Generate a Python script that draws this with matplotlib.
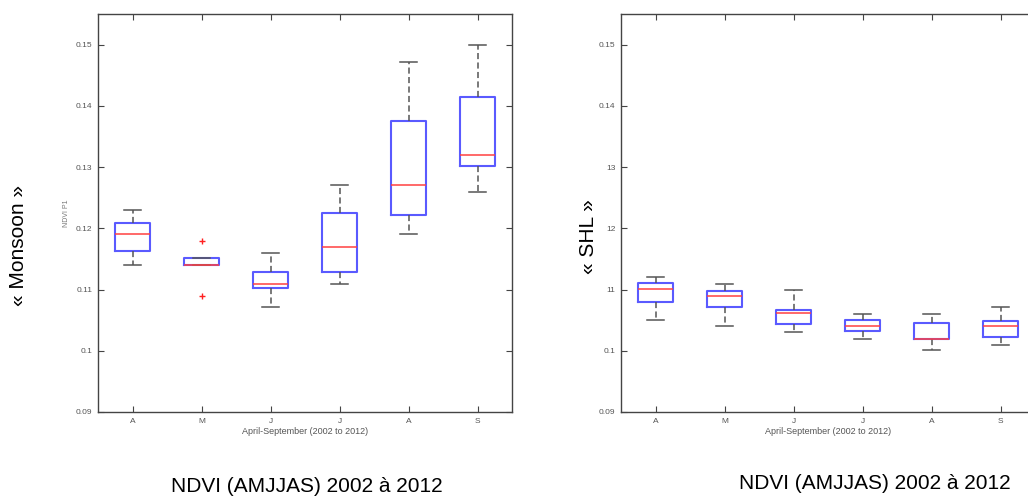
import matplotlib
matplotlib.use('Agg')
from matplotlib import pyplot as plt

plt.rcParams['font.family'] = ['Liberation Sans', 'DejaVu Sans']

months = ['A', 'M', 'J', 'J', 'A', 'S']

# Monsoon panel: whisker low, Q1, median, Q3, whisker high
mon_wlo = [0.1140, 0.1140, 0.1071, 0.1109, 0.1190, 0.1260]
mon_q1 = [0.1163, 0.1140, 0.1103, 0.1128, 0.1222, 0.1301]
mon_med = [0.1190, 0.1140, 0.1109, 0.1170, 0.1271, 0.1320]
mon_q3 = [0.1208, 0.1151, 0.1128, 0.1225, 0.1375, 0.1415]
mon_whi = [0.1230, 0.1151, 0.1160, 0.1271, 0.1471, 0.1500]
mon_fliers = [[], [0.1180, 0.1090], [], [], [], []]

# SHL panel
shl_wlo = [0.1050, 0.1040, 0.1030, 0.1020, 0.1001, 0.1010]
shl_q1 = [0.1080, 0.1071, 0.1043, 0.1033, 0.1020, 0.1022]
shl_med = [0.1101, 0.1090, 0.1061, 0.1040, 0.1020, 0.1040]
shl_q3 = [0.1110, 0.1097, 0.1067, 0.1050, 0.1046, 0.1048]
shl_whi = [0.1120, 0.1109, 0.1100, 0.1060, 0.1060, 0.1071]
shl_fliers = [[], [], [], [], [], []]

yticks = [0.09, 0.10, 0.11, 0.12, 0.13, 0.14, 0.15]
mon_yticklabels = ['0.09', '0.1', '0.11', '0.12', '0.13', '0.14', '0.15']
shl_yticklabels = ['0.09', '0.1', '11', '12', '13', '0.14', '0.15']

W, H = 1028, 496


def make_stats(wlo, q1, med, q3, whi, fliers):
    stats = []
    for i in range(len(med)):
        stats.append(dict(whislo=wlo[i], q1=q1[i], med=med[i], q3=q3[i],
                          whishi=whi[i], fliers=fliers[i]))
    return stats


def draw_panel(ax, stats, yticklabels, ylabel_small):
    ax.bxp(stats, positions=range(1, 7), widths=0.5, showfliers=True,
           boxprops=dict(color='#5a5aff', lw=1.5),
           medianprops=dict(color='#ff4040', lw=1.1),
           whiskerprops=dict(color='#555555', lw=1.1, linestyle=(0, (4, 2.2))),
           capprops=dict(color='#555555', lw=1.1),
           flierprops=dict(marker='+', markeredgecolor='#ff2020', markersize=4, mew=1.0))
    ax.set_xlim(0.5, 6.5)
    ax.set_ylim(0.09, 0.155)
    ax.set_xticks(range(1, 7))
    ax.set_xticklabels(months)
    ax.set_yticks(yticks)
    ax.set_yticklabels(yticklabels)
    ax.tick_params(direction='in', length=4, width=0.8, colors='#444444',
                   labelsize=6, labelcolor='#555555', top=True, right=True, pad=4)
    for s in ax.spines.values():
        s.set_color('#444444')
        s.set_linewidth(1.0)
    ax.set_xlabel('April-September (2002 to 2012)', fontsize=6.5, color='#555555', labelpad=2)
    if ylabel_small:
        ax.set_ylabel(ylabel_small, fontsize=5, color='#777777', labelpad=4)


fig = plt.figure(figsize=(W / 100, H / 100), dpi=100, facecolor='white')

ax1 = fig.add_axes([98 / W, (H - 412) / H, 414 / W, 398 / H])
draw_panel(ax1, make_stats(mon_wlo, mon_q1, mon_med, mon_q3, mon_whi, mon_fliers),
           mon_yticklabels, 'NDVI P1')

ax2 = fig.add_axes([621 / W, (H - 412) / H, 414 / W, 398 / H])
draw_panel(ax2, make_stats(shl_wlo, shl_q1, shl_med, shl_q3, shl_whi, shl_fliers),
           shl_yticklabels, None)

fig.text(19 / W, 1 - 246 / H, '« Monsoon »', rotation=90, fontsize=15,
         ha='center', va='center')
fig.text(588 / W, 1 - 237 / H, '« SHL »', rotation=90, fontsize=15,
         ha='center', va='center')
fig.text(307 / W, 1 - 492 / H, 'NDVI (AMJJAS) 2002 à 2012', fontsize=15,
         ha='center', va='baseline')
fig.text(875 / W, 1 - 489 / H, 'NDVI (AMJJAS) 2002 à 2012', fontsize=15,
         ha='center', va='baseline')

fig.savefig('out.png', dpi=100, facecolor='white')
